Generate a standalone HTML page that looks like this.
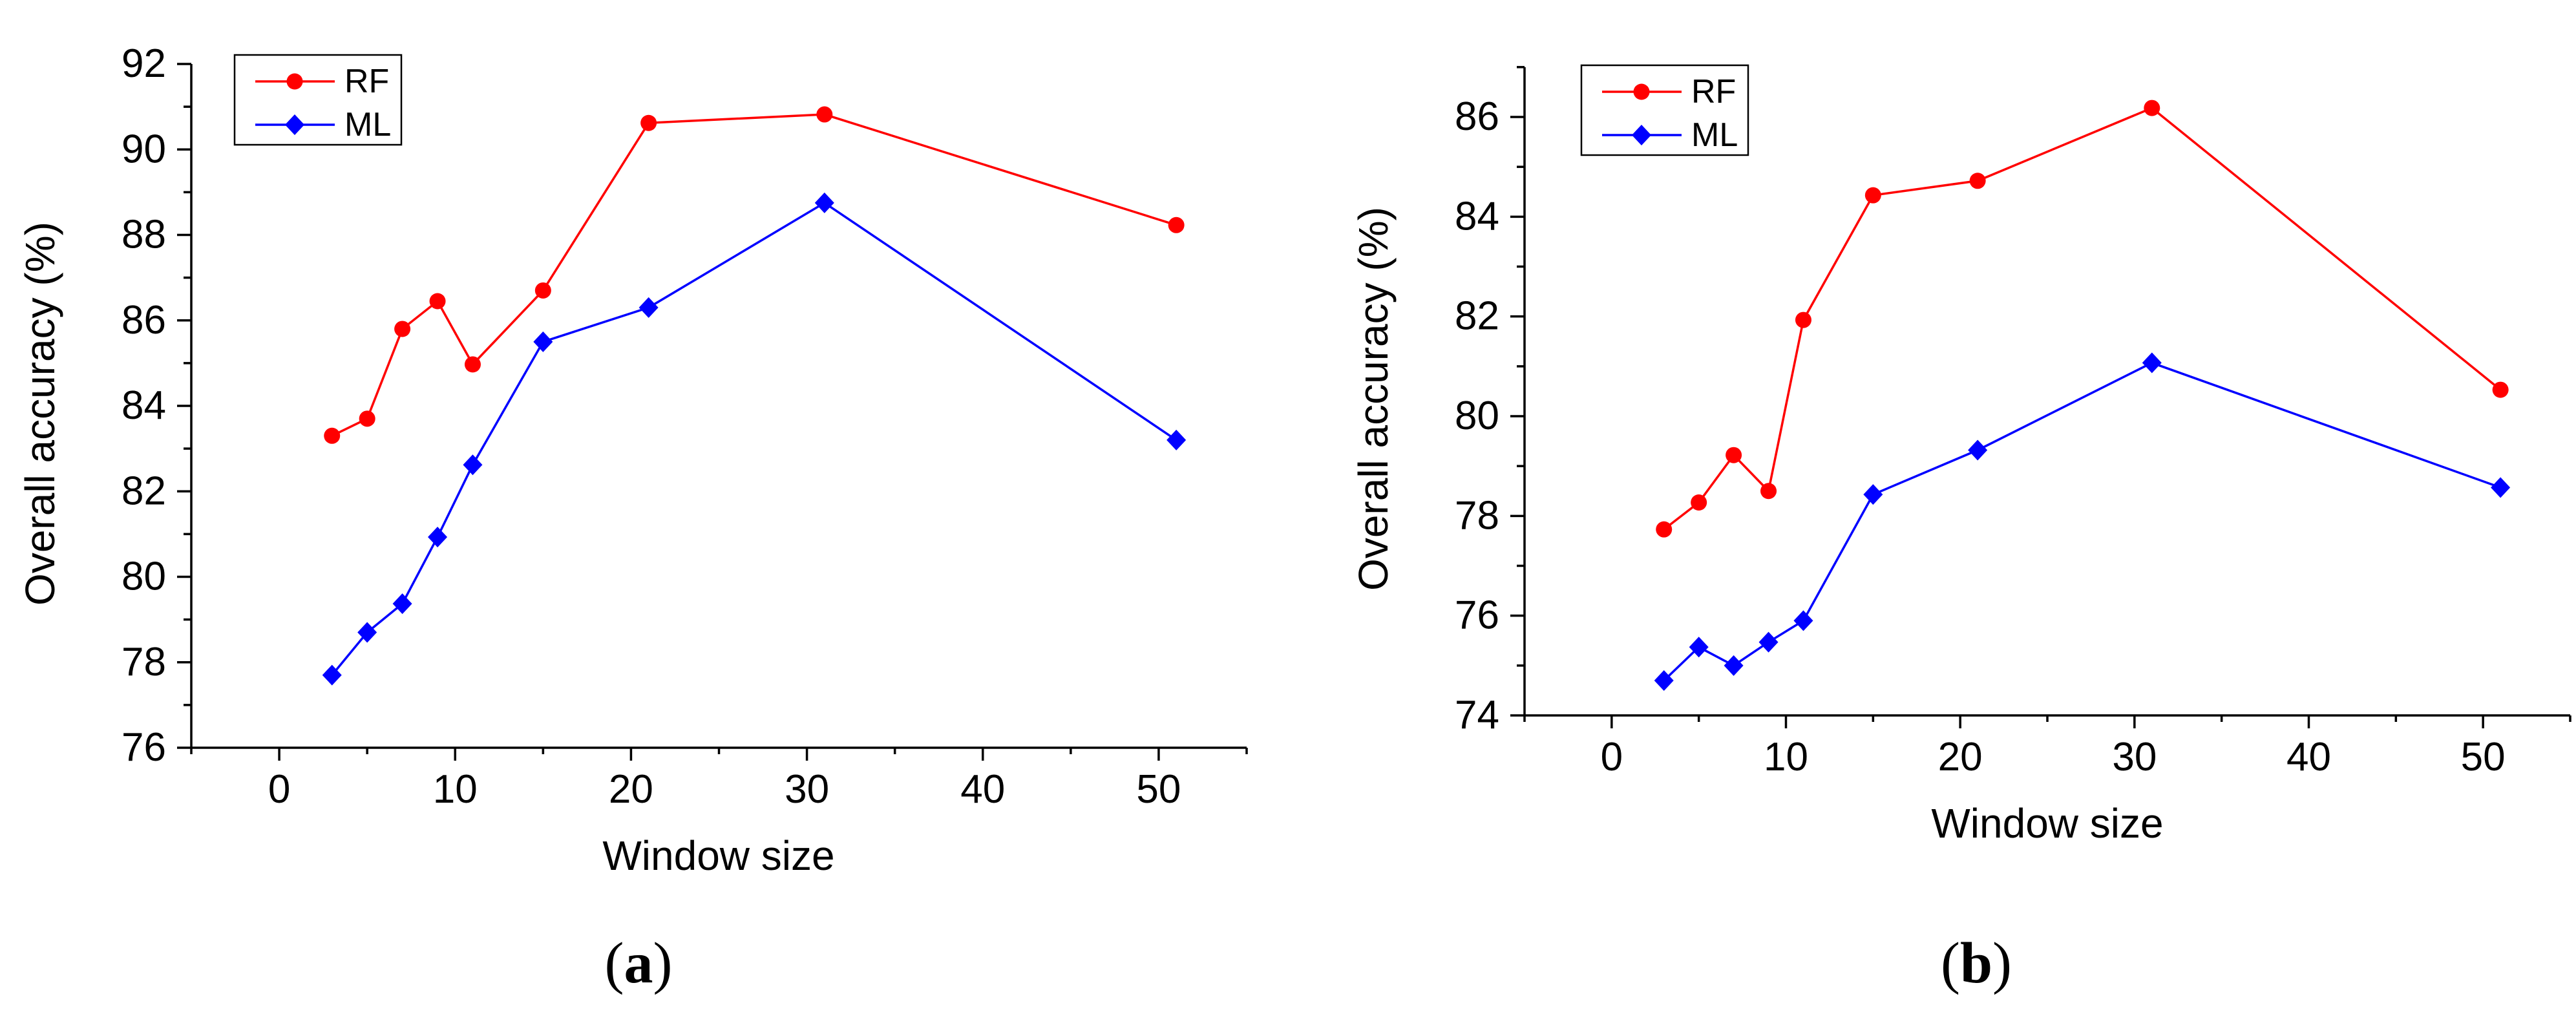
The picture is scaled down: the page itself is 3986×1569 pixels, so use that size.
<!DOCTYPE html>
<html><head><meta charset="utf-8">
<style>
html,body{margin:0;padding:0;background:#fff;}
svg{display:block;font-family:"Liberation Sans",Arial,sans-serif;}
</style></head>
<body>
<svg id="fig" width="3986" height="1569" viewBox="0 0 3986 1569" xmlns="http://www.w3.org/2000/svg"></svg>
<script>
const windowSizes = [3, 5, 7, 9, 11, 15, 21, 31, 51];
const rfA = [83.3, 83.7, 85.8, 86.45, 84.97, 86.7, 90.62, 90.82, 88.23];
const mlA = [77.7, 78.7, 79.37, 80.93, 82.62, 85.5, 86.3, 88.75, 83.2];
const rfB = [77.73, 78.27, 79.22, 78.5, 81.93, 84.43, 84.72, 86.18, 80.53];
const mlB = [74.7, 75.37, 75.0, 75.47, 75.9, 78.43, 79.32, 81.07, 78.57];
const xTicksMajor = [0, 10, 20, 30, 40, 50];
const yTicksA = [76, 78, 80, 82, 84, 86, 88, 90, 92];
const yTicksB = [74, 76, 78, 80, 82, 84, 86];

const NS = "http://www.w3.org/2000/svg";
const svg = document.getElementById('fig');
function mk(tag, attrs, parent, text){
  const e = document.createElementNS(NS, tag);
  for (const k in attrs) e.setAttribute(k, attrs[k]);
  if (text !== undefined) e.textContent = text;
  (parent || svg).appendChild(e);
  return e;
}

function panel(cfg){
  const g = mk('g', {});
  
  
  const xs = v => cfg.x0 + (v - cfg.xmin) / (cfg.xmax - cfg.xmin) * (cfg.x1 - cfg.x0);
  const ys = v => cfg.yb - (v - cfg.ymin) / (cfg.ymax - cfg.ymin) * (cfg.yb - cfg.yt);
  const axTop = ys(cfg.yAxisTop);
  // axes
  const ya = mk('line', {x1:cfg.x0, y1:axTop, x2:cfg.x0, y2:cfg.yb, stroke:'#000','stroke-width':3.5}, g);
  
  
  const xa = mk('line', {x1:cfg.x0, y1:cfg.yb, x2:cfg.x1, y2:cfg.yb, stroke:'#000','stroke-width':3.5}, g);
  
  
  // y ticks
  for (let v = cfg.ymin; v <= cfg.yAxisTop + 1e-9; v += 1){
    const major = cfg.yTicks.includes(v);
    const y = ys(v);
    mk('line', {x1:cfg.x0 - (major?22:12), y1:y, x2:cfg.x0, y2:y, stroke:'#000','stroke-width':3.5}, g);
    if (major){
      const t = mk('text', {x:cfg.x0 - 39, y:y + 20, 'font-size':62, 'text-anchor':'end'}, g, String(v));
      
      
    }
  }
  // x ticks
  for (let v = -5; v <= 55; v += 5){
    const major = xTicksMajor.includes(v);
    const x = xs(v);
    mk('line', {x1:x, y1:cfg.yb, x2:x, y2:cfg.yb + (major?20:10), stroke:'#000','stroke-width':3.5}, g);
    if (major){
      const t = mk('text', {x:x, y:cfg.yb + 85, 'font-size':62, 'text-anchor':'middle'}, g, String(v));
      
      
    }
  }
  // titles
  const xt = mk('text', {x:cfg.xtX, y:cfg.xtY, 'font-size':64, 'text-anchor':'middle'}, g, 'Window size');
  
  
  const yt = mk('text', {x:0, y:0, 'font-size':64, 'text-anchor':'middle', transform:`translate(${cfg.ytX},${cfg.ytY}) rotate(-90)`}, g, 'Overall accuracy (%)');
  
  
  // series
  const series = [
    {vals:cfg.rf, color:'#ff0000', shape:'circle', name:'rf'},
    {vals:cfg.ml, color:'#0000ff', shape:'diamond', name:'ml'}
  ];
  series.forEach(s => {
    const pts = windowSizes.map((w,i) => [xs(w), ys(s.vals[i])]);
    const pl = mk('polyline', {points:pts.map(p => p.join(',')).join(' '), fill:'none', stroke:s.color, 'stroke-width':3.5}, g);
    
    
    pts.forEach(p => {
      let m;
      if (s.shape === 'circle') m = mk('circle', {cx:p[0], cy:p[1], r:12.5, fill:s.color}, g);
      else m = mk('polygon', {points:`${p[0]},${p[1]-16} ${p[0]+15},${p[1]} ${p[0]},${p[1]+16} ${p[0]-15},${p[1]}`, fill:s.color}, g);
      
      
    });
  });
  // legend
  const lg = mk('g', {}, g);
  
  
  const L = cfg.legX, T = cfg.legY;
  mk('rect', {x:L, y:T, width:258, height:139, fill:'#fff', stroke:'#000', 'stroke-width':2.5}, lg);
  const e1 = mk('g', {}, lg);
  
  
  mk('line', {x1:L+32, y1:T+41, x2:L+155, y2:T+41, stroke:'#ff0000','stroke-width':3.5}, e1);
  mk('circle', {cx:L+93, cy:T+41, r:12.5, fill:'#ff0000'}, e1);
  mk('text', {x:L+170, y:T+58, 'font-size':52}, e1, 'RF');
  const e2 = mk('g', {}, lg);
  
  
  mk('line', {x1:L+32, y1:T+108, x2:L+155, y2:T+108, stroke:'#0000ff','stroke-width':3.5}, e2);
  mk('polygon', {points:`${L+93},${T+92} ${L+108},${T+108} ${L+93},${T+124} ${L+78},${T+108}`, fill:'#0000ff'}, e2);
  mk('text', {x:L+170, y:T+125, 'font-size':52}, e2, 'ML');
  // caption
  const cap = mk('text', {x:cfg.capX, y:1520, 'font-size':90, 'font-family':'"Liberation Serif",serif', 'text-anchor':'middle'}, g);
  
  
  mk('tspan', {}, cap, '(');
  mk('tspan', {'font-weight':'bold'}, cap, cfg.cap);
  mk('tspan', {}, cap, ')');
}

panel({name:'chart-a', x0:296, x1:1929, xmin:-5, xmax:55, yb:1157, yt:99, ymin:76, ymax:92, yAxisTop:92,
  yTicks:yTicksA, rf:rfA, ml:mlA, xtX:1112, xtY:1346, ytX:84, ytY:640, legX:363, legY:85, capX:988, cap:'a'});
panel({name:'chart-b', x0:2359, x1:3977, xmin:-5, xmax:55, yb:1107, yt:181, ymin:74, ymax:86, yAxisTop:87,
  yTicks:yTicksB, rf:rfB, ml:mlB, xtX:3168, xtY:1296, ytX:2147, ytY:617, legX:2447, legY:101, capX:3058, cap:'b'});
</script>
</body></html>
